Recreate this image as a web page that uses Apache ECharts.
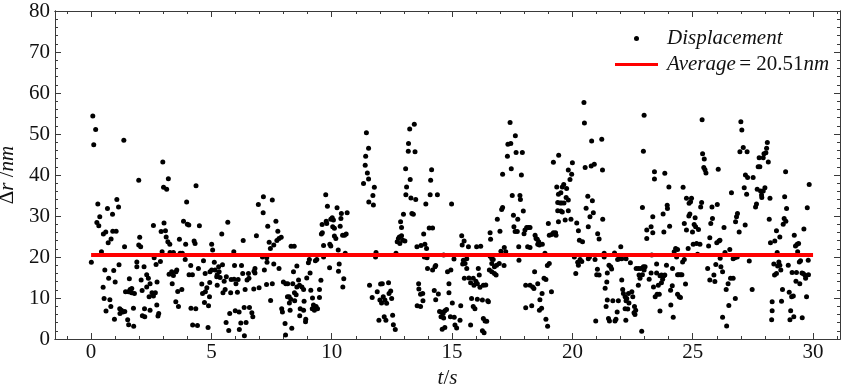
<!DOCTYPE html>
<html>
<head>
<meta charset="utf-8">
<script src="https://cdn.jsdelivr.net/npm/echarts@6/dist/echarts.min.js"></script>
<style>
  html, body { margin: 0; padding: 0; background: #fff; }
  #chart { width: 850px; height: 392px; }
</style>
</head>
<body>
<div id="chart"></div>
<script>
// ── Datos: desplazamiento Δr (nm) frente al tiempo t (s) ──
const dispSeg0to4 = [[0.07,54.4],[0.19,51.1],[0.11,47.4],[1.36,48.5],[2.98,43.2],[3.21,39.1],[3.01,37.0],[3.14,36.5],[1.98,38.7],[0.28,32.9],[0.68,31.8],[1.07,34.0],[1.14,32.2],[0.89,30.4],[0.36,29.8],[0.24,28.4],[0.32,27.6],[0.61,26.1],[0.51,25.6],[0.90,26.3],[1.04,26.3],[0.83,24.4],[0.71,23.5],[0.43,21.3],[0.01,18.7],[2.59,27.7],[3.03,28.3],[2.91,26.2],[3.09,26.4],[3.12,24.9],[3.19,23.7],[3.27,23.1],[2.02,24.8],[1.98,22.9],[2.06,22.5],[1.39,22.5],[2.95,21.3],[3.28,21.1],[3.42,21.1],[3.67,24.3],[0.57,16.8],[0.94,16.7],[1.16,18.1],[1.90,18.8],[1.90,17.6],[2.20,17.6],[2.62,19.8],[2.70,18.2],[2.88,18.9],[0.73,14.8],[1.00,13.9],[0.50,12.6],[1.59,14.7],[1.43,11.5],[1.55,11.5],[1.62,12.1],[1.68,11.3],[1.80,11.1],[1.69,12.3],[2.08,14.4],[2.31,15.7],[2.38,14.8],[2.45,13.5],[2.31,12.7],[2.12,11.8],[2.53,11.3],[2.67,11.3],[2.59,10.5],[2.41,10.3],[2.74,13.9],[3.24,15.8],[3.37,13.5],[3.42,15.5],[3.53,16.4],[3.60,11.6],[0.54,9.9],[0.78,9.6],[0.82,7.9],[0.62,6.8],[0.97,4.8],[1.20,6.2],[1.26,7.0],[1.32,6.6],[1.19,7.4],[1.40,6.7],[1.76,7.5],[1.52,4.7],[1.56,3.5],[1.77,3.1],[2.13,5.7],[2.23,5.4],[2.22,7.4],[2.45,7.0],[2.73,8.3],[2.81,6.2],[2.78,5.6],[3.52,9.1],[3.63,7.9],[3.35,16.4],[3.56,16.8]];
const dispSeg4to8 = [[4.36,37.4],[3.97,33.4],[3.84,28.7],[4.00,28.0],[4.06,27.8],[4.50,27.6],[3.93,23.1],[4.28,23.9],[4.32,23.3],[3.70,20.9],[3.79,20.9],[4.14,17.9],[3.91,19.4],[4.07,15.7],[4.21,15.7],[4.46,17.2],[4.67,19.1],[4.74,16.0],[5.01,23.1],[5.05,21.7],[5.43,25.6],[5.68,28.5],[5.93,21.3],[6.32,24.0],[6.87,25.2],[6.95,32.8],[7.16,34.7],[7.15,30.8],[7.53,33.9],[7.34,27.5],[7.40,23.6],[7.45,22.1],[7.59,22.9],[7.12,20.0],[7.30,19.8],[7.31,18.7],[7.59,18.3],[7.20,16.8],[6.81,17.2],[6.81,16.1],[6.77,16.5],[6.54,16.0],[6.56,14.8],[6.48,14.4],[6.25,17.9],[6.30,16.0],[5.96,17.9],[5.94,14.6],[6.02,13.5],[6.11,14.5],[5.82,14.5],[5.62,15.2],[5.46,18.1],[5.30,17.6],[5.12,18.7],[5.15,16.8],[5.24,15.7],[5.32,16.4],[5.01,16.8],[4.94,16.4],[5.22,15.2],[5.36,15.0],[5.53,14.1],[5.24,13.1],[4.93,13.8],[4.81,12.5],[4.60,13.4],[4.63,11.1],[4.75,11.5],[4.92,10.3],[4.71,8.9],[4.88,8.1],[5.48,11.3],[5.57,12.1],[5.80,11.3],[6.08,11.4],[6.40,12.1],[6.76,12.2],[6.98,12.5],[7.29,13.3],[7.53,13.5],[7.46,9.4],[3.77,12.1],[4.15,7.5],[4.35,7.4],[4.22,3.4],[4.42,3.3],[4.86,2.8],[5.61,4.0],[5.72,2.1],[5.76,6.2],[5.99,6.9],[6.15,6.6],[6.36,7.7],[6.58,7.7],[6.68,6.4],[6.72,5.4],[6.44,4.0],[6.22,3.9],[6.16,2.3],[6.37,0.8]];
const dispSeg8to12 = [[7.68,28.7],[7.76,26.3],[7.81,24.5],[7.90,24.8],[7.72,24.0],[8.31,22.6],[8.44,22.6],[7.81,17.2],[7.99,13.9],[8.09,13.5],[8.17,13.5],[8.38,13.5],[8.16,10.3],[8.23,10.3],[8.41,16.4],[8.55,17.8],[8.62,14.4],[8.66,13.1],[8.76,12.7],[8.83,12.1],[8.55,12.7],[8.45,11.3],[8.52,10.8],[8.30,9.7],[8.24,8.8],[8.46,9.3],[7.92,7.4],[7.95,6.6],[8.27,7.0],[8.06,3.8],[8.08,1.0],[8.34,2.6],[8.69,7.4],[8.83,7.0],[8.67,5.7],[8.85,9.2],[8.92,4.8],[8.91,4.2],[8.96,14.9],[9.10,16.1],[9.03,18.6],[9.13,11.9],[9.20,10.0],[9.24,8.3],[9.19,7.4],[9.35,7.9],[9.28,7.0],[9.41,7.4],[9.49,10.1],[9.49,12.1],[9.55,14.3],[9.32,19.1],[9.38,19.4],[9.07,19.4],[9.66,20.0],[9.57,25.6],[9.61,25.9],[9.60,27.9],[9.66,22.8],[9.75,35.2],[9.82,32.4],[9.79,28.2],[9.91,17.4],[9.77,28.7],[9.96,29.2],[10.02,29.6],[10.07,29.0],[10.04,27.4],[10.11,27.0],[9.92,23.1],[9.96,22.7],[10.11,25.1],[10.17,24.5],[10.22,32.0],[10.35,27.5],[10.40,30.6],[10.38,29.4],[10.45,25.3],[10.53,25.3],[10.60,25.6],[10.64,30.8],[10.27,21.7],[10.31,18.3],[10.28,16.5],[10.50,14.7],[10.46,12.7],[10.56,20.9],[11.32,37.9],[11.39,42.4],[11.41,44.6],[11.44,50.3],[11.53,46.5],[11.48,40.5],[11.53,39.0],[11.54,33.4],[11.57,13.1]];
const dispSeg12to15 = [[11.73,32.7],[11.71,35.0],[11.77,37.0],[11.84,21.1],[11.82,20.0],[11.68,10.1],[11.89,11.5],[12.03,13.4],[12.10,13.5],[12.36,13.7],[12.00,9.5],[12.07,8.8],[12.14,10.3],[12.21,9.5],[12.28,8.7],[12.38,11.1],[12.45,11.7],[12.49,9.9],[11.96,4.6],[12.18,5.4],[12.25,4.6],[12.53,5.8],[12.56,3.5],[12.64,2.3],[12.67,20.9],[12.72,23.7],[12.77,24.5],[12.81,24.9],[12.90,25.2],[12.95,24.1],[13.04,23.9],[12.83,23.3],[12.86,28.6],[12.90,27.2],[12.98,30.4],[13.08,35.2],[13.11,37.1],[13.26,38.9],[13.07,41.5],[13.18,45.8],[13.19,47.7],[13.24,51.2],[13.43,52.4],[13.46,45.7],[13.29,34.4],[13.49,34.0],[13.33,30.6],[13.39,30.4],[13.54,22.5],[13.71,22.8],[13.87,23.1],[13.94,22.1],[13.82,25.6],[14.05,27.1],[14.19,27.1],[13.85,20.0],[13.96,19.8],[13.91,32.9],[14.09,35.2],[14.39,35.2],[14.11,38.7],[14.15,41.3],[13.98,17.2],[14.19,16.8],[14.29,17.6],[14.32,17.9],[13.61,13.5],[13.62,12.2],[13.69,10.9],[13.78,11.1],[13.79,9.3],[13.55,8.1],[13.69,7.9],[14.26,11.8],[14.43,11.0],[14.32,9.6],[14.48,6.7],[14.57,6.5],[14.63,6.2],[14.70,6.9],[14.77,7.2],[14.54,5.4],[14.65,5.1],[14.93,5.4],[15.09,5.3],[15.01,8.8],[14.87,13.5],[14.87,11.3],[14.81,16.4],[14.95,16.8],[14.65,20.5],[15.08,19.5],[14.98,32.9],[15.12,3.4],[15.19,2.7],[14.59,2.4],[14.70,2.8],[15.33,4.6],[15.40,25.2],[15.42,22.9],[15.47,19.2],[15.44,18.3],[15.51,14.8]];
const dispSeg15to19 = [[15.50,23.9],[15.68,22.5],[15.61,19.6],[15.54,18.4],[15.61,17.2],[16.02,22.5],[16.19,22.6],[16.09,17.2],[15.70,14.9],[15.88,14.8],[16.13,15.6],[15.77,13.7],[15.91,13.1],[15.99,14.1],[16.05,13.5],[16.16,12.6],[16.30,13.1],[16.40,13.2],[15.81,9.9],[15.88,7.9],[15.95,7.4],[16.05,9.7],[16.26,9.5],[16.48,9.3],[16.51,9.1],[15.77,3.4],[16.26,2.0],[16.33,1.5],[16.30,5.0],[16.37,4.4],[16.44,4.3],[15.36,8.1],[16.58,25.9],[16.60,24.3],[16.58,20.2],[16.65,19.6],[16.71,19.4],[16.65,18.4],[16.85,18.0],[16.76,17.6],[16.96,18.4],[16.55,16.8],[16.65,16.4],[16.76,16.0],[16.83,15.6],[17.16,17.9],[16.88,29.2],[16.99,26.3],[17.03,21.4],[17.17,22.3],[17.23,21.3],[17.06,31.6],[17.10,32.1],[17.10,40.2],[17.30,44.6],[17.32,47.5],[17.44,47.7],[17.41,52.8],[17.46,41.5],[17.50,35.0],[17.55,30.2],[17.57,27.4],[17.62,26.2],[17.71,26.2],[17.66,45.5],[17.63,49.6],[17.92,45.5],[17.88,40.0],[17.82,35.0],[17.84,34.0],[17.73,29.2],[17.96,31.2],[17.77,22.5],[17.78,19.2],[17.99,25.7],[18.03,26.6],[18.10,27.2],[18.17,27.2],[18.24,27.2],[18.14,22.5],[18.24,22.3],[18.45,25.3],[18.49,24.5],[18.54,24.3],[18.60,23.7],[18.63,22.9],[18.75,23.1],[18.56,23.1],[18.86,20.9],[18.43,16.4],[18.06,13.1],[18.24,13.1],[18.35,12.7],[18.40,12.3],[18.56,13.5],[18.06,7.6],[18.31,8.1],[18.65,9.6],[18.63,7.0],[18.72,7.5],[18.74,11.1],[18.82,14.8],[18.90,14.5],[18.96,17.9],[19.04,18.4],[19.13,11.5],[18.90,4.8],[18.97,3.1],[19.00,28.2],[19.04,25.3],[19.14,25.5],[19.21,25.9],[19.30,25.9],[19.32,25.3],[19.21,43.1],[19.43,44.8],[19.35,37.1],[19.42,35.3],[19.39,33.3],[19.39,31.3],[19.42,28.6]];
const dispSeg19to23 = [[20.00,43.0],[19.83,41.2],[19.97,40.2],[19.90,38.9],[19.64,37.7],[19.76,36.7],[19.58,37.1],[19.52,35.7],[19.74,34.5],[19.83,33.9],[19.49,33.2],[19.56,33.2],[19.65,33.2],[19.83,31.3],[19.52,31.2],[19.58,31.0],[19.70,29.0],[19.94,29.2],[20.48,57.7],[20.50,52.7],[20.53,41.8],[20.78,42.2],[20.91,42.6],[20.80,48.3],[21.22,48.7],[21.25,41.2],[20.64,34.8],[20.83,33.7],[20.57,31.9],[20.87,30.8],[20.73,29.8],[21.26,29.2],[20.18,28.3],[20.25,26.4],[20.66,27.4],[20.29,24.1],[20.42,23.7],[21.05,25.7],[21.11,24.4],[20.08,20.0],[20.22,18.7],[20.32,19.4],[20.39,18.9],[20.25,18.0],[20.66,19.6],[20.71,20.0],[20.94,19.4],[20.14,16.0],[21.04,17.0],[21.01,15.7],[21.11,15.6],[21.32,20.9],[21.32,20.0],[21.52,18.0],[21.59,17.6],[21.63,17.1],[21.75,21.0],[21.88,19.4],[21.95,19.6],[22.01,22.5],[22.05,19.6],[22.23,19.6],[22.41,18.6],[21.45,16.1],[21.43,13.9],[21.36,12.4],[21.45,9.5],[21.68,9.3],[21.91,9.3],[21.50,5.0],[21.54,4.4],[21.77,4.4],[21.81,4.8],[21.86,6.6],[21.40,7.9],[20.97,4.4],[22.05,14.4],[22.09,12.1],[22.12,11.1],[22.19,10.3],[22.26,9.9],[22.33,11.1],[22.23,9.3],[22.35,8.8],[22.19,7.4],[22.30,7.3],[22.22,4.6],[22.47,11.5],[22.51,10.3],[22.58,7.9],[22.63,7.0],[22.56,6.4],[22.60,6.0],[22.65,17.2],[22.74,17.2],[22.84,17.2],[22.77,15.6],[22.81,14.8],[22.74,13.1],[22.91,15.7],[22.95,17.6],[23.02,17.6],[22.98,16.8],[23.19,14.6],[23.37,12.7],[22.88,1.9],[22.91,32.1],[22.95,45.8],[22.98,54.6],[23.09,24.5],[23.09,26.6],[23.27,27.4],[23.34,29.8],[23.34,25.9],[23.41,40.8],[23.41,39.0],[23.30,20.5],[23.27,16.1]];
const dispSeg23to27 = [[23.77,30.5],[23.80,26.1],[23.84,40.4],[23.94,32.6],[23.95,31.8],[24.01,37.1],[24.04,27.5],[23.50,18.3],[23.50,16.1],[23.64,15.4],[23.70,15.6],[23.75,14.6],[23.80,15.4],[23.84,15.6],[23.70,13.7],[23.57,13.1],[23.52,10.9],[23.44,10.3],[23.61,10.9],[23.64,6.8],[23.91,18.0],[24.08,11.9],[24.15,13.0],[24.16,17.2],[24.09,8.3],[24.19,5.3],[24.23,21.3],[24.29,22.1],[24.37,21.8],[24.33,20.0],[24.37,15.7],[24.42,15.7],[24.49,15.7],[24.55,15.7],[24.37,10.9],[24.44,10.3],[24.49,10.1],[24.58,18.8],[24.65,19.4],[24.70,13.4],[24.60,37.0],[24.65,28.2],[24.74,34.3],[24.74,26.6],[24.81,22.1],[24.84,30.0],[24.88,30.5],[24.85,33.1],[24.91,33.5],[24.95,34.3],[24.99,26.1],[25.02,23.1],[25.06,27.9],[25.10,29.6],[25.12,27.4],[25.16,23.3],[25.20,20.7],[25.24,26.7],[25.30,23.1],[25.33,32.2],[25.37,33.3],[25.39,53.5],[25.41,45.2],[25.48,43.9],[25.46,41.8],[25.51,41.3],[25.55,40.5],[25.66,22.7],[25.62,17.2],[25.71,14.4],[25.80,32.2],[25.82,29.4],[25.75,28.2],[25.71,24.7],[25.88,15.6],[25.92,14.0],[25.96,18.2],[26.02,32.8],[26.06,41.4],[26.00,23.5],[26.09,23.9],[26.13,24.1],[26.14,19.7],[26.17,17.6],[26.24,16.4],[26.30,27.2],[26.34,21.1],[26.24,5.3],[26.41,3.2],[26.39,12.1],[26.47,13.5],[26.50,8.2],[26.54,21.8],[26.57,14.8],[26.68,14.8],[26.61,35.7],[26.68,19.6],[26.75,19.8],[26.77,9.9],[26.78,28.6],[26.82,29.8],[26.86,30.6],[26.93,26.1],[26.85,20.0],[26.96,45.7],[27.00,53.0],[27.04,51.0],[27.10,46.7],[27.26,45.7],[27.19,40.0],[27.28,39.4],[27.14,36.9],[27.24,35.3],[27.18,27.8],[27.35,19.0]];
const dispSeg27to30 = [[27.51,39.4],[27.47,12.1],[27.61,32.2],[27.65,32.9],[27.68,36.5],[27.72,42.0],[27.79,42.0],[27.76,44.2],[27.82,36.1],[27.86,35.1],[27.87,34.5],[27.93,36.1],[28.00,36.9],[27.93,44.2],[27.96,45.2],[28.04,45.4],[28.07,46.5],[28.10,47.9],[28.14,43.2],[28.21,34.3],[28.18,29.2],[28.23,23.5],[28.41,23.9],[28.48,26.4],[28.62,24.9],[28.51,21.1],[28.37,18.3],[28.58,18.8],[28.62,18.0],[28.53,17.8],[28.40,15.6],[28.48,16.0],[28.66,16.8],[28.73,12.1],[28.69,9.2],[28.30,9.1],[28.30,6.9],[28.28,4.7],[28.86,40.8],[28.82,34.7],[28.90,31.8],[28.80,29.4],[28.87,28.7],[28.76,28.0],[28.97,18.0],[29.01,11.4],[29.11,10.3],[29.18,10.5],[29.07,6.9],[29.04,4.7],[29.20,5.4],[29.13,16.2],[29.31,16.2],[29.29,14.1],[29.45,13.5],[29.22,25.3],[29.27,22.7],[29.34,23.1],[29.40,23.3],[29.36,21.3],[29.43,18.8],[29.48,19.1],[29.54,16.1],[29.59,16.0],[29.62,26.8],[29.69,14.8],[29.66,15.6],[29.73,10.3],[29.81,15.7],[29.80,19.2],[29.76,32.0],[29.84,37.7],[29.55,5.2]];

const AVERAGE_NM = 20.51;
const averageSpan = [0, 30];          // el promedio se dibuja de t=0 a t=30 s

// ── Ejes ──────────────────────────────────────────────────────────────────
const xMajorTicks = [0, 5, 10, 15, 20, 25, 30];
const xMinorTicks = [-1, 1, 2, 3, 4, 6, 7, 8, 9, 11, 12, 13, 14, 16, 17, 18, 19, 21, 22, 23, 24, 26, 27, 28, 29, 31];
const yMajorTicks = [0, 10, 20, 30, 40, 50, 60, 70, 80];
const yMinorTicks = [2, 4, 6, 8, 12, 14, 16, 18, 22, 24, 26, 28, 32, 34, 36, 38, 42, 44, 46, 48, 52, 54, 56, 58, 62, 64, 66, 68, 72, 74, 76, 78];

const displacement = [].concat(dispSeg0to4, dispSeg4to8, dispSeg8to12, dispSeg12to15,
  dispSeg15to19, dispSeg19to23, dispSeg23to27, dispSeg27to30);

const SERIF = '"Liberation Serif", "DejaVu Serif", serif';
const FRAME = '#3a3a3a';
const X_RANGE = [-1.5, 31.12];
const Y_RANGE = [0, 80];

function _xAxis(pos, ticks, len, withLabels) {
  return {
    type: 'value', position: pos, min: X_RANGE[0], max: X_RANGE[1],
    axisLine: { show: true, onZero: false, lineStyle: { color: FRAME, width: 1 } },
    axisTick: { show: true, inside: true, length: len, customValues: ticks, lineStyle: { color: FRAME } },
    axisLabel: withLabels
      ? { show: true, customValues: ticks, margin: 3, color: '#111', fontFamily: SERIF, fontSize: 21 }
      : { show: false },
    splitLine: { show: false },
  };
}

function _yAxis(pos, ticks, len, withLabels) {
  return {
    type: 'value', position: pos, min: Y_RANGE[0], max: Y_RANGE[1],
    axisLine: { show: true, onZero: false, lineStyle: { color: FRAME, width: 1 } },
    axisTick: { show: true, inside: true, length: len, customValues: ticks, lineStyle: { color: FRAME } },
    axisLabel: withLabels
      ? { show: true, customValues: ticks, margin: 5, color: '#111', fontFamily: SERIF, fontSize: 21 }
      : { show: false },
    splitLine: { show: false },
  };
}

const chart = echarts.init(document.getElementById('chart'), null, { renderer: 'canvas' });

const xMain = _xAxis('bottom', xMajorTicks, 6, true);
xMain.name = '{i|t}{r|/}{i|s}';
xMain.nameLocation = 'middle';
xMain.nameGap = 27;
xMain.nameTextStyle = {
  rich: {
    i: { fontFamily: SERIF, fontStyle: 'italic', fontSize: 21, color: '#111' },
    r: { fontFamily: SERIF, fontSize: 21, color: '#111' },
  },
};

const yMain = _yAxis('left', yMajorTicks, 6, true);
yMain.name = '{r|Δ}{i|r}{r| /}{i|nm}';
yMain.nameLocation = 'middle';
yMain.nameGap = 31;
yMain.nameTextStyle = {
  rich: {
    i: { fontFamily: SERIF, fontStyle: 'italic', fontSize: 21, color: '#111' },
    r: { fontFamily: SERIF, fontSize: 21, color: '#111' },
  },
};

chart.setOption({
  animation: false,
  backgroundColor: '#fff',
  grid: { left: 55, right: 10, top: 11, bottom: 53, containLabel: false, outerBoundsMode: 'none' },
  xAxis: [
    xMain,
    _xAxis('bottom', xMinorTicks, 3, false),
    _xAxis('top', xMajorTicks, 6, false),
    _xAxis('top', xMinorTicks, 3, false),
  ],
  yAxis: [
    yMain,
    _yAxis('left', yMinorTicks, 3, false),
    _yAxis('right', yMajorTicks, 6, false),
    _yAxis('right', yMinorTicks, 3, false),
  ],
  legend: {
    orient: 'vertical',
    left: 610,
    top: 23,
    itemWidth: 43,
    itemHeight: 5,
    itemGap: 5,
    data: [
      { name: 'Displacement', icon: 'circle' },
      { name: 'Average', icon: 'path://M0,0h43v3h-43z' },
    ],
    formatter: (name) => name === 'Displacement'
      ? '{i|Displacement}'
      : '{i|Average} {r|= 20.51}{i|nm}',
    textStyle: {
      padding: [0, 0, 0, 4],
      lineHeight: 21,
      rich: {
        i: { fontFamily: SERIF, fontStyle: 'italic', fontSize: 21, color: '#111', lineHeight: 21 },
        r: { fontFamily: SERIF, fontSize: 21, color: '#111', lineHeight: 21 },
      },
    },
  },
  series: [
    {
      name: 'Displacement',
      type: 'scatter',
      xAxisIndex: 0, yAxisIndex: 0,
      data: displacement,
      symbol: 'circle',
      symbolSize: 5,
      itemStyle: { color: '#000', opacity: 1 },
      z: 2,
    },
    {
      name: 'Average',
      type: 'line',
      xAxisIndex: 0, yAxisIndex: 0,
      data: averageSpan.map(t => [t, AVERAGE_NM]),
      symbol: 'none',
      lineStyle: { color: '#ff0000', width: 4 },
      itemStyle: { color: '#ff0000' },
      z: 3,
    },
  ],
});
</script>
</body>
</html>
